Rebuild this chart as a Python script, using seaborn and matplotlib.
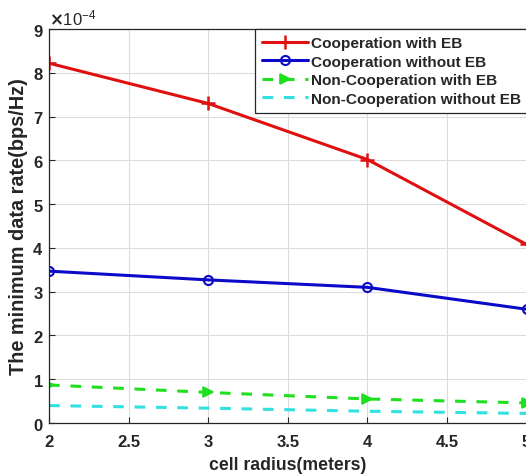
import numpy as np
import pandas as pd
import seaborn as sns
from matplotlib import pyplot as plt
from matplotlib.ticker import ScalarFormatter

# cell radius (meters)
radius = [2, 3, 4, 5]
# minimum data rate, in units of 1e-4 bps/Hz
coop_eb = [8.22, 7.30, 6.02, 4.08]
coop_no_eb = [3.47, 3.27, 3.10, 2.60]
noncoop_eb = [0.87, 0.70, 0.55, 0.46]
noncoop_no_eb = [0.40, 0.34, 0.27, 0.22]

series = ["Cooperation with EB", "Cooperation without EB",
          "Non-Cooperation with EB", "Non-Cooperation without EB"]
values = [coop_eb, coop_no_eb, noncoop_eb, noncoop_no_eb]

sns.set_style("ticks")
plt.rcParams["font.family"] = ["Liberation Sans", "DejaVu Sans"]
plt.rcParams["font.weight"] = "bold"

fig = plt.figure(figsize=(5.26, 4.77), dpi=100)
ax = fig.add_axes([0.0932, 0.111, 0.9078, 0.826])

red, blue, green, cyan = "#e01010", "#0a0ac8", "#1ee01e", "#33e0e0"
styles = [
    dict(color=red, linestyle="-", marker="+", markersize=10, mew=1.8, mec=red, mfc="none"),
    dict(color=blue, linestyle="-", marker="o", markersize=6.5, mew=1.5, mec=blue, mfc="none"),
    dict(color=green, linestyle=(0, (3.5, 3.5)), marker=">", markersize=7.5, mew=1.2, mec=green, mfc=green),
    dict(color=cyan, linestyle=(0, (3.5, 3.5)), marker=None),
]

for name, vals, st in zip(series, values, styles):
    y = np.array(vals) * 1e-4
    sns.lineplot(x=radius, y=y, ax=ax, label=name, linewidth=2.2, **st)

ax.set_xlim(2, 5)
ax.set_ylim(0, 9e-4)
ax.set_xticks([2, 2.5, 3, 3.5, 4, 4.5, 5])
ax.set_xticklabels(["2", "2.5", "3", "3.5", "4", "4.5", "5"])
ax.set_yticks(np.arange(0, 10) * 1e-4)
fmt = ScalarFormatter(useMathText=True)
fmt.set_powerlimits((-3, 3))
ax.yaxis.set_major_formatter(fmt)
ax.yaxis.get_offset_text().set_fontsize(12)
ax.yaxis.get_offset_text().set_fontweight("normal")

ax.grid(True, color="#dcdcdc", linewidth=0.8)
ax.tick_params(direction="in", labelsize=12, width=0.8, length=4)
ax.tick_params(axis="x", pad=8)
ax.tick_params(axis="y", pad=4)
for lab in ax.get_xticklabels() + ax.get_yticklabels():
    lab.set_fontweight("bold")
for sp in ax.spines.values():
    sp.set_color("#262626")
    sp.set_linewidth(0.9)

ax.set_xlabel("cell radius(meters)", fontsize=12.7, fontweight="bold", labelpad=5)
ax.set_ylabel("The minimum data rate(bps/Hz)", fontsize=14.3, fontweight="bold")
ax.yaxis.set_label_coords(-0.044, 0.5)

leg = ax.legend(loc="upper left", bbox_to_anchor=(0.432, 1.0), fontsize=11.1,
                frameon=True, fancybox=False, framealpha=1, edgecolor="#262626",
                borderpad=0.45, labelspacing=0.3, handlelength=3.0, handletextpad=0.15,
                borderaxespad=0)
leg.get_frame().set_linewidth(0.9)
for t in leg.get_texts():
    t.set_fontweight("bold")

fig.savefig("out.png", dpi=100)
